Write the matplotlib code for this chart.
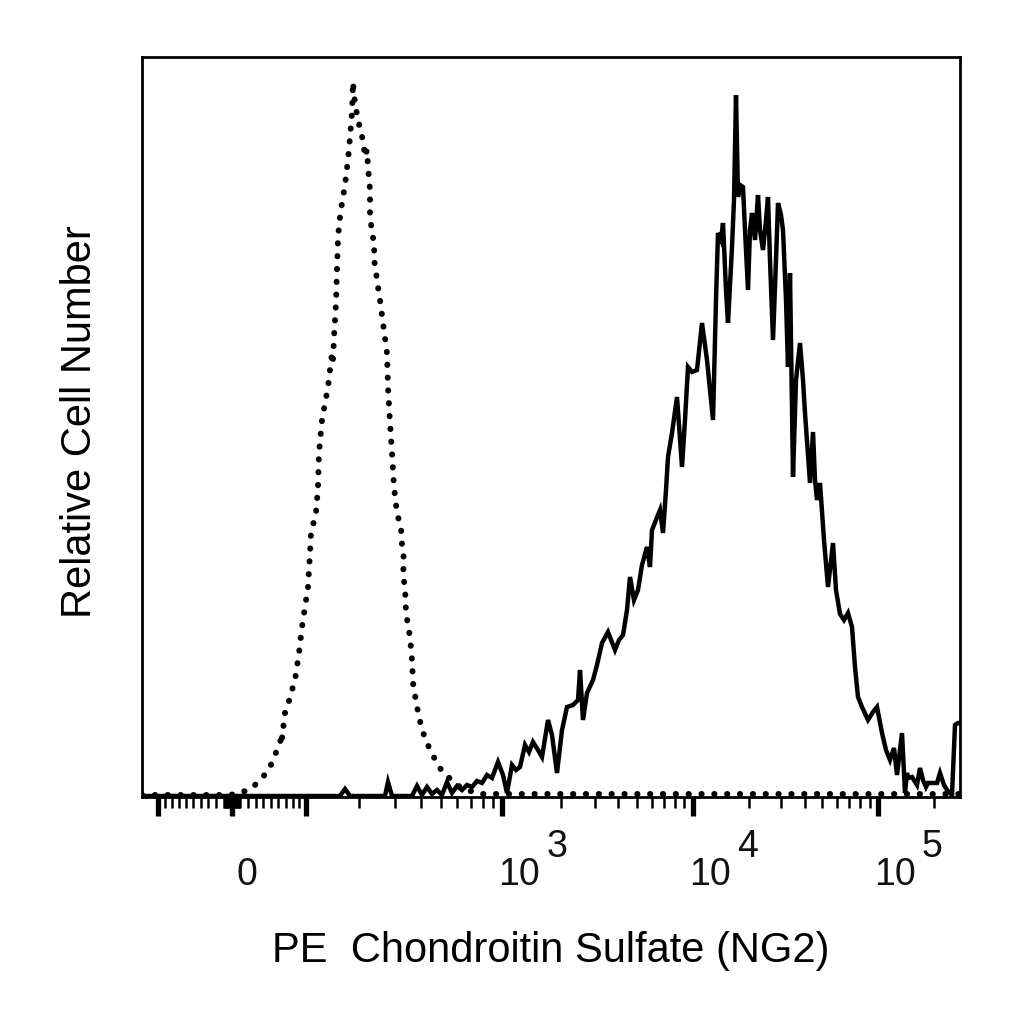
import numpy as np
import matplotlib
matplotlib.use("Agg")
import matplotlib.pyplot as plt

plt.rcParams['font.family'] = ['Liberation Sans', 'DejaVu Sans']

# ---- data: histogram counts per display channel (0..818 across the axis) ----
ng2_channel = [0, 58, 98, 158, 198, 203, 208, 243, 246, 250, 270, 275, 280, 285, 290, 295, 300, 305, 310,
               315, 320, 325, 330, 335, 340, 345, 350, 356, 361, 365, 370, 374, 378, 383, 387, 391, 396,
               400, 406, 410, 415, 420, 425, 431, 436, 438, 441, 445, 451, 455, 460, 466, 473, 477, 481,
               485, 488, 492, 496, 500, 505, 508, 510, 514, 518, 521, 524, 526, 530, 535, 540, 543, 546,
               550, 555, 560, 565, 571, 574, 576, 579, 581, 584, 586, 590, 592, 594, 596, 598, 601, 603,
               606, 608, 610, 613, 616, 618, 621, 624, 626, 628, 631, 634, 636, 639, 641, 644, 646, 648,
               651, 654, 658, 661, 663, 668, 671, 673, 675, 678, 682, 686, 691, 694, 698, 702, 706, 710,
               713, 716, 720, 726, 731, 735, 740, 744, 748, 752, 755, 760, 763, 765, 766, 770, 775, 778,
               781, 784, 786, 790, 795, 798, 802, 805, 810, 813, 816, 818]
ng2_counts = [1, 1, 1, 1, 1, 8, 1, 1, 15, 1, 1, 11, 2, 10, 3, 7, 2, 15, 4,
              11, 7, 12, 10, 16, 14, 22, 19, 35, 22, 4, 32, 27, 30, 52, 45, 55, 47,
              40, 77, 62, 24, 67, 90, 92, 97, 127, 77, 104, 117, 132, 154, 165, 147, 157, 162,
              187, 220, 197, 207, 232, 250, 230, 267, 277, 287, 264, 307, 340, 364, 400, 330, 377, 430,
              425, 427, 474, 437, 377, 497, 564, 557, 574, 507, 474, 550, 597, 702, 600, 612, 610, 567,
              507, 567, 584, 557, 602, 567, 547, 577, 600, 537, 457, 537, 594, 582, 567, 497, 430, 524,
              320, 417, 454, 417, 384, 314, 365, 317, 297, 314, 257, 210, 254, 207, 183, 177, 184, 170,
              130, 100, 90, 77, 85, 90, 64, 47, 37, 49, 22, 64, 4, 24, 19, 20, 12, 29,
              17, 10, 14, 14, 14, 24, 12, 7, 2, 72, 74, 74]

iso_channel = [0, 88, 101, 111, 121, 128, 135, 138, 141, 140, 143, 146, 148, 153, 157, 160, 163, 166,
               168, 169, 174, 176, 177, 180, 186, 188, 190, 191, 192, 194, 195, 196, 198, 200, 203, 206,
               208, 210, 211, 212, 214, 216, 218, 221, 223, 225, 226, 228, 228, 230, 233, 231, 233, 236,
               238, 241, 245, 246, 248, 250, 252, 255, 259, 260, 262, 261, 263, 264, 268, 270, 271, 273,
               275, 280, 288, 295, 301, 310, 318, 325, 338, 818]
iso_counts = [2, 2, 5, 10, 20, 30, 47, 55, 64, 59, 84, 92, 100, 117, 144, 170, 190, 210,
              244, 264, 284, 310, 344, 377, 410, 427, 444, 437, 460, 494, 527, 560, 580, 594, 612, 637,
              660, 684, 715, 702, 687, 680, 667, 657, 640, 647, 630, 607, 584, 564, 550, 542, 532, 510,
              497, 474, 444, 410, 374, 344, 310, 284, 269, 252, 237, 222, 210, 184, 160, 137, 114, 102,
              90, 67, 47, 34, 24, 17, 10, 7, 3, 3]

# axis tick values (intensity) and labels
major_vals = [-100, 0, 100, 1e3, 1e4, 1e5]
label_vals = [0, 1e3, 1e4, 1e5]
label_exps = ["", "3", "4", "5"]
minor_vals = ([-v for v in range(10, 100, 10)] + [-v for v in range(1, 10)] + list(range(1, 10)) +
              list(range(10, 100, 10)) + list(range(200, 1000, 100)) + list(range(2000, 10000, 1000)) +
              list(range(20000, 100000, 10000)) + [200000])

# ---- biexponential display transform (intensity -> channel) ----
ZERO_CH = 90.0
A, D, C, E = 31.2, 184.3, 149.0, 392.0
_grid = np.linspace(-120, 760, 40001)
_vals = A * (10 ** (_grid / D) - 1) - C * (10 ** (-_grid / E) - 1)


def to_channel(v):
    return ZERO_CH + np.interp(np.asarray(v, dtype=float), _vals, _grid)


fig = plt.figure(figsize=(10.24, 10.24), dpi=100)
ax = fig.add_axes([142 / 1024, 1 - 797 / 1024, 818 / 1024, 740 / 1024])

ax.plot(iso_channel, iso_counts, color='black', lw=4.3,
        linestyle=(0, (0.05, 2.1)), dash_capstyle='round', solid_joinstyle='round')
ax.plot(ng2_channel, ng2_counts, color='black', lw=3.2, solid_joinstyle='miter')

ax.set_xlim(0, 818)
ax.set_ylim(0, 740)
ax.set_yticks([])

ax.set_xticks(to_channel(major_vals))
ax.set_xticks([c for c in to_channel(minor_vals) if 0 <= c <= 818], minor=True)
ax.set_xticklabels([])
ax.tick_params(axis='x', which='major', direction='out', length=14, width=3.8, color='black')
ax.tick_params(axis='x', which='minor', direction='out', length=8, width=1.8, color='black')
for s in ax.spines.values():
    s.set_linewidth(2.0)
    s.set_color('black')

for v, ex in zip(label_vals, label_exps):
    xc = float(to_channel(v))
    if ex == "":
        ax.annotate("0", xy=(xc, 0), xycoords=('data', 'axes fraction'),
                    xytext=(15, -88), textcoords='offset pixels',
                    ha='center', va='baseline', fontsize=27, color='#111111')
    else:
        ax.annotate("10", xy=(xc, 0), xycoords=('data', 'axes fraction'),
                    xytext=(-4, -88), textcoords='offset pixels',
                    ha='left', va='baseline', fontsize=27, color='#111111')
        ax.annotate(ex, xy=(xc, 0), xycoords=('data', 'axes fraction'),
                    xytext=(44, -60), textcoords='offset pixels',
                    ha='left', va='baseline', fontsize=27, color='#111111')

fig.text(551 / 1024, 1 - 962 / 1024, "PE  Chondroitin Sulfate (NG2)", ha='center', va='baseline',
         fontsize=30, color='black')
fig.text(80 / 1024, 1 - 422 / 1024, "Relative Cell Number", rotation=90, ha='center', va='center',
         fontsize=30, color='black')

fig.savefig("out.png", dpi=100)
